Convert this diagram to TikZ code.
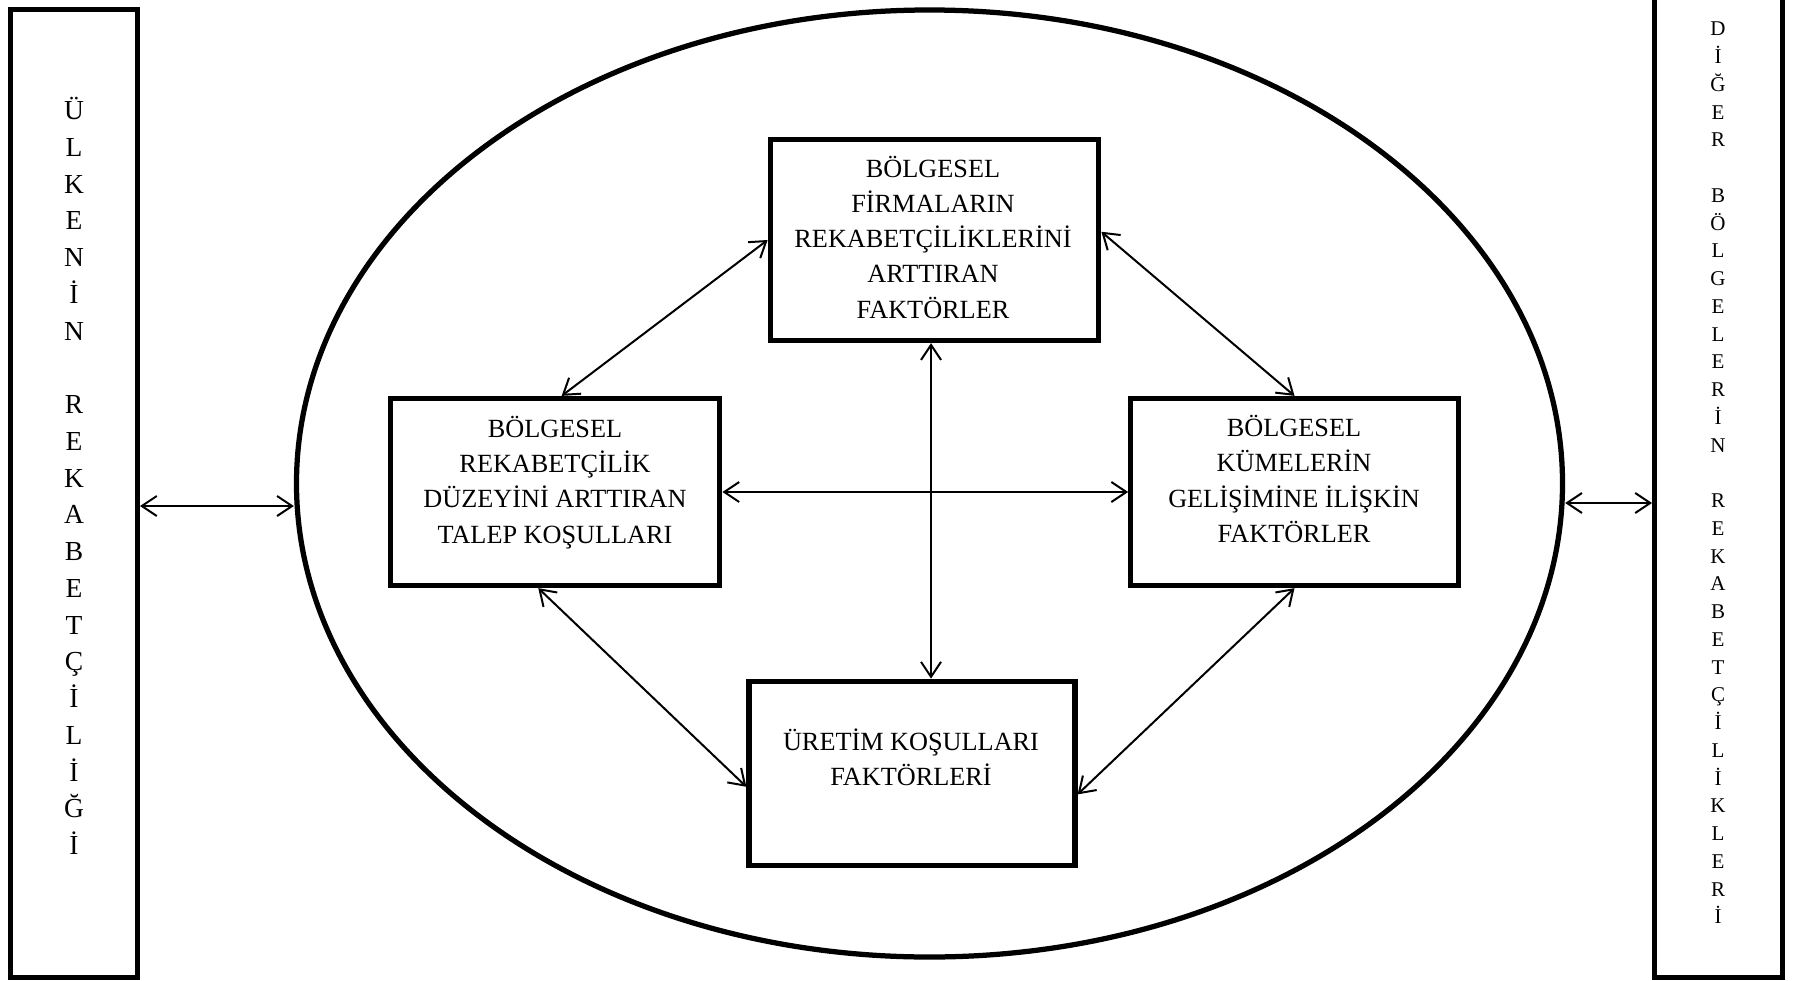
\documentclass[tikz,border=0pt]{standalone}
\usepackage{fontspec}
\setmainfont{Liberation Serif}
\usetikzlibrary{arrows.meta,shapes.geometric,calc}

\tikzset{
  factorbox/.style={draw, line width=2.1pt, outer sep=1.05pt, inner sep=0pt, rectangle},
  sidebox/.style={draw, line width=2pt, outer sep=1pt, inner sep=0pt, rectangle},
  boxtext/.style={align=center, inner sep=0pt, font=\fontsize{10.5}{14.1}\selectfont},
  con/.style={line width=0.8pt,
    {Straight Barb[length=6pt,width=8pt]}-{Straight Barb[length=6pt,width=8pt]}}
}

\begin{document}
\begin{tikzpicture}[x=0.4pt,y=-0.4pt]
  \useasboundingbox (0,0) rectangle (1793,980);
  \clip (0,0) rectangle (1793,980);

  % outer frames
  \node[sidebox, minimum width=50.8pt, minimum height=386.8pt] (lbox) at (74,493.5) {};
  \node[sidebox, minimum width=51.2pt, minimum height=398.8pt] (rbox) at (1718.5,478.5) {};

  \node[align=center, inner sep=0pt, font=\fontsize{11}{14.7}\selectfont] (ltext) at (74,476)
    {Ü\\L\\K\\E\\N\\İ\\N\\\mbox{}\\R\\E\\K\\A\\B\\E\\T\\Ç\\İ\\L\\İ\\Ğ\\İ};
  \node[align=center, inner sep=0pt, font=\fontsize{8.4}{11.1}\selectfont] (rtext) at (1718,473)
    {D\\İ\\Ğ\\E\\R\\\mbox{}\\B\\Ö\\L\\G\\E\\L\\E\\R\\İ\\N\\\mbox{}\\R\\E\\K\\A\\B\\E\\T\\Ç\\İ\\L\\İ\\K\\L\\E\\R\\İ};

  % region ellipse
  \node[ellipse, draw, line width=2.1pt, inner sep=0pt, outer sep=1.05pt,
        minimum width=506.4pt, minimum height=378.8pt] (ell) at (929.5,483.5) {};

  % factor boxes
  \node[factorbox, minimum width=131.4pt, minimum height=80.4pt] (fa) at (934.5,240) {};
  \node[factorbox, minimum width=131.8pt, minimum height=74.8pt] (tb) at (555,492) {};
  \node[factorbox, minimum width=131pt, minimum height=74.8pt] (kb) at (1294.5,492) {};
  \node[factorbox, minimum width=130.4pt, minimum height=73.8pt] (ub) at (912,773.5) {};

  \node[boxtext] (fat) at (933,237)
    {BÖLGESEL\\FİRMALARIN\\REKABETÇİLİKLERİNİ\\ARTTIRAN\\FAKTÖRLER};
  \node[boxtext] (tbt) at (555,482.5)
    {BÖLGESEL\\REKABETÇİLİK\\DÜZEYİNİ ARTTIRAN\\TALEP KOŞULLARI};
  \node[boxtext] (kbt) at (1294,479)
    {BÖLGESEL\\KÜMELERİN\\GELİŞİMİNE İLİŞKİN\\FAKTÖRLER};
  \node[boxtext] (ubt) at (911,757)
    {ÜRETİM KOŞULLARI\\FAKTÖRLERİ};

  % reference levels for straight connectors
  \coordinate (yl) at (0,506);
  \coordinate (yr) at (0,503);
  \coordinate (xv) at (931,0);

  % connectors
  \draw[con] (lbox.east |- yl) -- (ell.west |- yl);
  \draw[con] (ell.east |- yr) -- (rbox.west |- yr);
  \draw[con] (fa.west) -- ($(tb.north west)!0.52!(tb.north east)$);
  \draw[con] ($(fa.north east)!0.46!(fa.south east)$) -- (kb.north);
  \draw[con] (fa.south -| xv) -- (ub.north -| xv);
  \draw[con] (tb.east) -- (kb.west);
  \draw[con] ($(tb.south west)!0.45!(tb.south east)$) -- ($(ub.north west)!0.57!(ub.south west)$);
  \draw[con] (kb.south) -- ($(ub.north east)!0.61!(ub.south east)$);
\end{tikzpicture}
\end{document}
